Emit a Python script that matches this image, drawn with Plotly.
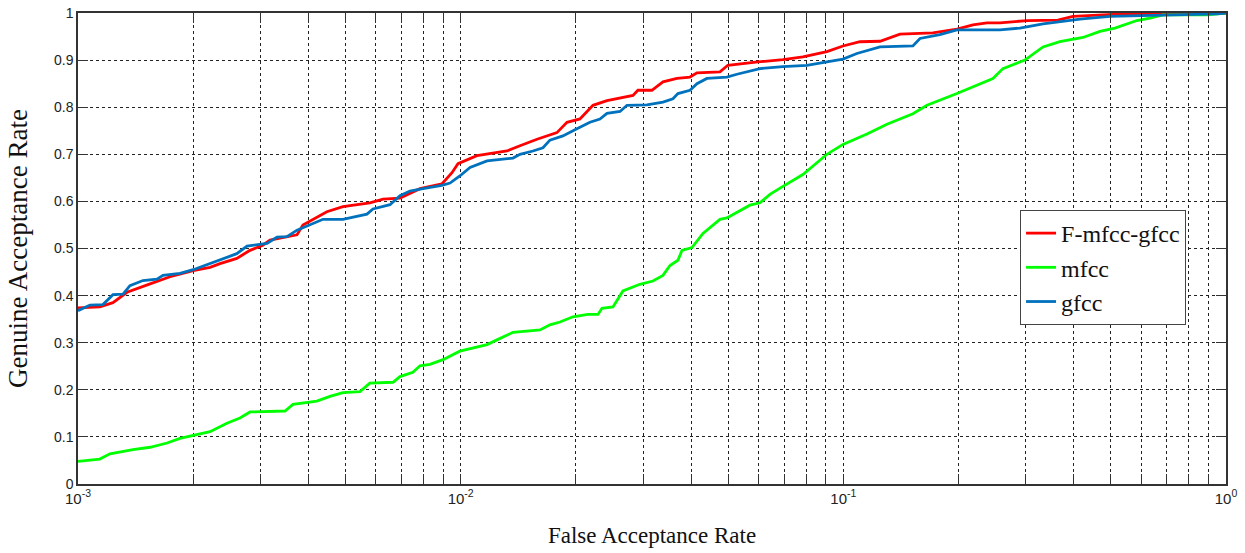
import plotly.graph_objects as go

# F-mfcc-gfcc (red)
far_fused = [0.001, 1.14e-3, 1.234e-3, 1.343e-3, 1.543e-3, 1.74e-3, 2.0e-3, 2.213e-3, 2.35e-3, 2.60e-3,
             2.815e-3, 3.04e-3, 3.175e-3, 3.735e-3, 3.87e-3, 4.47e-3, 4.925e-3, 5.79e-3, 6.27e-3, 6.94e-3,
             7.83e-3, 8.93e-3, 9.49e-3, 9.84e-3, 1.103e-2, 1.321e-2, 1.429e-2, 1.583e-2, 1.785e-2, 1.896e-2,
             2.05e-2, 2.217e-2, 2.412e-2, 2.609e-2, 2.82e-2, 2.906e-2, 3.16e-2, 3.378e-2, 3.674e-2, 3.974e-2,
             4.145e-2, 4.76e-2, 4.99e-2, 5.98e-2, 6.954e-2, 7.84e-2, 9.06e-2, 9.98e-2, 0.1105, 0.1247,
             0.1348, 0.1406, 0.1714, 0.1981, 0.2181, 0.2372, 0.2566, 0.3018, 0.3637, 0.398,
             0.5378, 0.870, 1.0]
gar_fused = [0.374, 0.376, 0.385, 0.407, 0.425, 0.44, 0.453, 0.46, 0.468, 0.479,
             0.496, 0.507, 0.518, 0.529, 0.55, 0.578, 0.589, 0.597, 0.605, 0.607,
             0.627, 0.637, 0.661, 0.68, 0.697, 0.707, 0.718, 0.732, 0.746, 0.768,
             0.775, 0.804, 0.814, 0.82, 0.825, 0.836, 0.836, 0.854, 0.861, 0.864,
             0.873, 0.875, 0.889, 0.896, 0.901, 0.907, 0.918, 0.93, 0.939, 0.94,
             0.95, 0.955, 0.958, 0.966, 0.975, 0.979, 0.979, 0.984, 0.985, 0.993,
             0.998, 0.998, 1.0]

# mfcc (green)
far_mfcc = [0.001, 1.14e-3, 1.212e-3, 1.392e-3, 1.543e-3, 1.709e-3, 1.847e-3, 2.0e-3, 2.213e-3, 2.45e-3,
            2.65e-3, 2.815e-3, 3.475e-3, 3.646e-3, 4.21e-3, 4.555e-3, 4.925e-3, 5.456e-3, 5.79e-3, 6.656e-3,
            6.94e-3, 7.50e-3, 7.83e-3, 8.31e-3, 8.99e-3, 9.95e-3, 1.172e-2, 1.244e-2, 1.37e-2, 1.612e-2,
            1.711e-2, 1.818e-2, 1.965e-2, 2.15e-2, 2.285e-2, 2.34e-2, 2.50e-2, 2.655e-2, 2.94e-2, 3.18e-2,
            3.378e-2, 3.524e-2, 3.697e-2, 3.787e-2, 4.022e-2, 4.297e-2, 4.76e-2, 4.963e-2, 5.368e-2, 5.70e-2,
            6.055e-2, 6.43e-2, 6.954e-2, 7.84e-2, 9.06e-2, 9.98e-2, 0.1153, 0.130, 0.152, 0.1654,
            0.1981, 0.2234, 0.246, 0.2612, 0.2982, 0.3325, 0.3681, 0.4228, 0.4684, 0.5125,
            0.585, 0.6328, 0.684, 0.8915, 1.0]
gar_mfcc = [0.048, 0.053, 0.064, 0.073, 0.078, 0.087, 0.097, 0.103, 0.111, 0.129,
            0.14, 0.153, 0.155, 0.169, 0.176, 0.186, 0.194, 0.196, 0.214, 0.216,
            0.228, 0.237, 0.251, 0.254, 0.264, 0.282, 0.296, 0.306, 0.322, 0.327,
            0.338, 0.344, 0.355, 0.36, 0.36, 0.373, 0.376, 0.41, 0.424, 0.431,
            0.443, 0.464, 0.475, 0.496, 0.502, 0.532, 0.562, 0.565, 0.581, 0.592,
            0.597, 0.615, 0.632, 0.657, 0.70, 0.721, 0.743, 0.764, 0.786, 0.804,
            0.829, 0.846, 0.861, 0.882, 0.90, 0.928, 0.939, 0.948, 0.961, 0.968,
            0.984, 0.989, 0.996, 0.996, 1.0]

# gfcc (blue)
far_gfcc = [0.001, 1.075e-3, 1.162e-3, 1.234e-3, 1.311e-3, 1.367e-3, 1.478e-3, 1.608e-3, 1.668e-3, 1.847e-3,
            2.0e-3, 2.254e-3, 2.60e-3, 2.765e-3, 3.118e-3, 3.311e-3, 3.516e-3, 3.735e-3, 4.368e-3, 4.925e-3,
            5.69e-3, 5.90e-3, 6.536e-3, 6.94e-3, 7.37e-3, 7.97e-3, 8.93e-3, 9.38e-3, 9.95e-3, 1.058e-2,
            1.172e-2, 1.37e-2, 1.429e-2, 1.545e-2, 1.641e-2, 1.711e-2, 1.85e-2, 1.989e-2, 2.177e-2, 2.312e-2,
            2.412e-2, 2.609e-2, 2.72e-2, 3.068e-2, 3.378e-2, 3.587e-2, 3.697e-2, 3.974e-2, 4.145e-2, 4.40e-2,
            4.963e-2, 5.272e-2, 5.80e-2, 6.055e-2, 6.954e-2, 8.03e-2, 9.06e-2, 9.98e-2, 0.1085, 0.1247,
            0.152, 0.1586, 0.1788, 0.1981, 0.2566, 0.2894, 0.3325, 0.3681, 0.4153, 0.4972,
            0.672, 0.947, 1.0]
gar_gfcc = [0.368, 0.38, 0.381, 0.402, 0.403, 0.421, 0.432, 0.435, 0.443, 0.447,
            0.455, 0.471, 0.489, 0.505, 0.511, 0.524, 0.525, 0.539, 0.562, 0.562,
            0.573, 0.584, 0.593, 0.612, 0.622, 0.627, 0.634, 0.639, 0.654, 0.672,
            0.686, 0.692, 0.70, 0.707, 0.714, 0.73, 0.739, 0.752, 0.768, 0.775,
            0.787, 0.791, 0.804, 0.805, 0.811, 0.818, 0.829, 0.836, 0.85, 0.861,
            0.864, 0.87, 0.879, 0.882, 0.886, 0.889, 0.896, 0.902, 0.914, 0.928,
            0.93, 0.946, 0.954, 0.964, 0.964, 0.968, 0.977, 0.982, 0.987, 0.993,
            0.995, 0.998, 1.0]

series_names = ["F-mfcc-gfcc", "mfcc", "gfcc"]
x_tick_vals = [0.001, 0.01, 0.1, 1]
x_tick_text = ["10<sup>-3</sup>", "10<sup>-2</sup>", "10<sup>-1</sup>", "10<sup>0</sup>"]
x_minor_vals = [m * d for d in (0.001, 0.01, 0.1) for m in range(2, 10)]
y_tick_vals = [0, 0.1, 0.2, 0.3, 0.4, 0.5, 0.6, 0.7, 0.8, 0.9, 1]
y_tick_text = ["0", "0.1", "0.2", "0.3", "0.4", "0.5", "0.6", "0.7", "0.8", "0.9", "1"]

colors = ["#ff0000", "#00ff00", "#0072bd"]

fig = go.Figure()
for name, xs, ys, c in zip(series_names,
                           [far_fused, far_mfcc, far_gfcc],
                           [gar_fused, gar_mfcc, gar_gfcc], colors):
    fig.add_trace(go.Scatter(x=xs, y=ys, mode="lines", name=name,
                             line=dict(color=c, width=2.8)))

grid_style = dict(showgrid=True, gridcolor="#222222", gridwidth=1, griddash="3px,3px")

fig.update_layout(
    width=1245, height=553,
    margin=dict(l=78, r=19, t=13, b=69, autoexpand=False),
    paper_bgcolor="white", plot_bgcolor="white",
    showlegend=True,
    legend=dict(x=0.8206, y=0.5817, xanchor="left", yanchor="top",
                bgcolor="white", bordercolor="#444444", borderwidth=1,
                font=dict(family="Liberation Serif", size=24, color="#111111"),
                tracegroupgap=0),
    xaxis=dict(type="log", range=[-3, 0], automargin=False, ticklabeloverflow="allow",
               tickvals=x_tick_vals, ticktext=x_tick_text,
               ticks="inside", ticklen=10, tickcolor="#333333",
               showline=True, linecolor="#333333", linewidth=1.5, mirror="allticks",
               tickfont=dict(family="Arial", size=15, color="#222222"),
               minor=dict(tickvals=x_minor_vals, ticks="inside", ticklen=10,
                          tickcolor="#333333", **grid_style),
               title=dict(text="False Acceptance Rate", standoff=21,
                          font=dict(family="Liberation Serif", size=23, color="#111111")),
               zeroline=False, **grid_style),
    yaxis=dict(range=[0, 1], automargin=False, ticklabeloverflow="allow",
               tickvals=y_tick_vals, ticktext=y_tick_text,
               ticks="inside", ticklen=10, tickcolor="#333333",
               showline=True, linecolor="#333333", linewidth=1.5, mirror="allticks",
               tickfont=dict(family="Arial", size=14, color="#222222"),
               title=dict(text="Genuine Acceptance Rate", standoff=19,
                          font=dict(family="Liberation Serif", size=27, color="#111111")),
               zeroline=False, **grid_style),
)

# remove the browser's default 8px page margin so the figure fills the window
fig.write_html("out.html", config={"displayModeBar": False},
               post_script="document.body.style.margin='0';document.body.style.overflow='hidden';")
